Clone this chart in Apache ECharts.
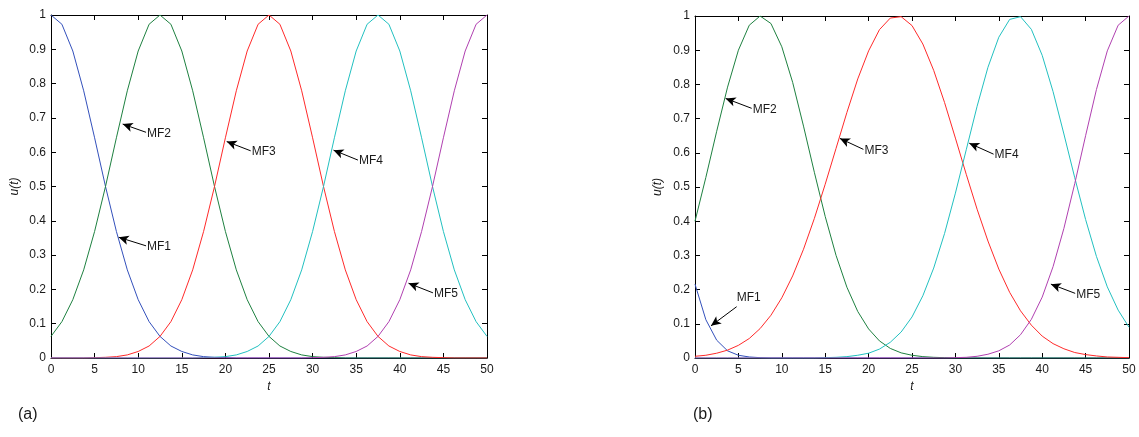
<!DOCTYPE html>
<html>
<head>
<meta charset="utf-8">
<script src="https://cdn.jsdelivr.net/npm/echarts@6/dist/echarts.min.js"></script>
<style>
html,body{margin:0;padding:0;background:#fff;}
#chart{width:1139px;height:437px;}
</style>
</head>
<body>
<div id="chart"></div>
<script>
// ---- data ----
const t = [0,1.25,2.5,3.75,5,6.25,7.5,8.75,10,11.25,12.5,13.75,15,16.25,17.5,18.75,20,21.25,22.5,23.75,25,
           26.25,27.5,28.75,30,31.25,32.5,33.75,35,36.25,37.5,38.75,40,41.25,42.5,43.75,45,46.25,47.5,48.75,50];
const names = ['MF1','MF2','MF3','MF4','MF5'];

// panel (a)
const mf1A = [1,.973,.895,.779,.642,.5,.369,.257,.170,.106,.063,.035,.019,.009,.004,.002,.001,
              0,0,0,0,0,0,0,0,0,0,0,0,0,0,0,0,0,0,0,0,0,0,0,0];
const mf2A = [.063,.106,.170,.257,.369,.5,.642,.779,.895,.973,1,.973,.895,.779,.642,.5,.369,.257,.170,.106,.063,
              .035,.019,.009,.004,.002,.001,0,0,0,0,0,0,0,0,0,0,0,0,0,0];
const mf3A = [0,0,0,0,.001,.002,.004,.009,.019,.035,.063,.106,.170,.257,.369,.5,.642,.779,.895,.973,1,
              .973,.895,.779,.642,.5,.369,.257,.170,.106,.063,.035,.019,.009,.004,.002,.001,0,0,0,0];
const mf4A = [0,0,0,0,0,0,0,0,0,0,0,0,0,0,.001,.002,.004,.009,.019,.035,.063,
              .106,.170,.257,.369,.5,.642,.779,.895,.973,1,.973,.895,.779,.642,.5,.369,.257,.170,.106,.063];
const mf5A = [0,0,0,0,0,0,0,0,0,0,0,0,0,0,0,0,0,0,0,0,0,
              0,0,0,.001,.002,.004,.009,.019,.035,.063,.106,.170,.257,.369,.5,.642,.779,.895,.973,1];

// panel (b)
const mf1B = [.216,.112,.052,.021,.008,.003,.001,0,0,0,0,0,0,0,0,0,0,0,0,0,0,
              0,0,0,0,0,0,0,0,0,0,0,0,0,0,0,0,0,0,0,0];
const mf2B = [.400,.528,.663,.792,.900,.973,1.000,.978,.910,.806,.678,.543,.414,.300,.207,.136,.085,.050,.028,.015,.008,
              .004,.002,.001,0,0,0,0,0,0,0,0,0,0,0,0,0,0,0,0,0];
const mf3B = [.005,.008,.014,.023,.037,.057,.086,.125,.176,.240,.318,.408,.508,.613,.718,.816,.898,.960,.994,.998,.972,
              .918,.841,.747,.643,.537,.435,.342,.260,.192,.138,.096,.064,.042,.027,.016,.010,.006,.003,.002,.001];
const mf4B = [0,0,0,0,0,0,0,0,0,0,0,0,.001,.002,.004,.008,.014,.026,.046,.076,.120,
              .182,.263,.364,.482,.609,.736,.850,.938,.990,.998,.961,.885,.779,.655,.527,.405,.297,.208,.140,.090];
const mf5B = [0,0,0,0,0,0,0,0,0,0,0,0,0,0,0,0,0,0,0,0,0,
              0,0,0,.001,.002,.005,.011,.021,.038,.068,.113,.178,.267,.379,.510,.650,.785,.898,.973,1];

// annotation arrows: tip [t,u] and tail [t,u]
const tipsA = [[7.76,0.352],[8.22,0.682],[20.15,0.631],[32.4,0.606],[41.0,0.218]];
const tailsA = [[10.9,0.327],[10.9,0.658],[22.9,0.604],[35.2,0.577],[43.8,0.190]];
const tipsB = [[1.84,0.094],[3.53,0.759],[16.7,0.642],[31.6,0.628],[41.0,0.216]];
const tailsB = [[4.8,0.150],[6.53,0.730],[19.4,0.610],[34.4,0.596],[43.8,0.189]];

const colors = ['#3350bb','#1e8040','#ff2a2a','#22c0c0','#b040b0'];
const FONT = 'Liberation Sans, Arial, Helvetica, sans-serif';

const chart = echarts.init(document.getElementById('chart'), null, {renderer:'canvas'});

function pairs(ys){ return t.map((x,i)=>[x, ys[i]]); }

function xAx(grid, pos, labels){
  return {
    type:'value', gridIndex:grid, position:pos, min:0, max:50, interval:5,
    axisLine:{show:true, onZero:false, lineStyle:{color:'#000', width:1}},
    axisTick:{show:true, inside:true, length:5, lineStyle:{color:'#000'}},
    axisLabel:{show:labels, margin:6, color:'#1a1a1a', fontSize:12, fontFamily:FONT},
    splitLine:{show:false},
    name: labels ? 't' : '', nameLocation:'middle', nameGap:21,
    nameTextStyle:{fontStyle:'italic', fontSize:12, color:'#1a1a1a', fontFamily:FONT}
  };
}
function yAx(grid, pos, labels, gap){
  return {
    type:'value', gridIndex:grid, position:pos, min:0, max:1, interval:0.1,
    axisLine:{show:true, onZero:false, lineStyle:{color:'#000', width:1}},
    axisTick:{show:true, inside:true, length:5, lineStyle:{color:'#000'}},
    axisLabel:{show:labels, margin:5, color:'#1a1a1a', fontSize:12, fontFamily:FONT,
      formatter: v => (v===0?'0':(Math.abs(v-1)<1e-9?'1':v.toFixed(1)))},
    splitLine:{show:false},
    name: labels ? 'u(t)' : '', nameLocation:'middle', nameGap:gap,
    nameTextStyle:{fontStyle:'italic', fontSize:12, color:'#1a1a1a', fontFamily:FONT}
  };
}

function makeSeries(arrs, xi, yi, tips, tails, panel){
  return arrs.map((ys,k)=>{
    const textUp = (panel==='b' && k===0);
    return {
      type:'line', name:names[k]+panel, xAxisIndex:xi, yAxisIndex:yi,
      data:pairs(ys), showSymbol:false, smooth:false, clip:true,
      lineStyle:{color:colors[k], width:1}, itemStyle:{color:colors[k]},
      emphasis:{disabled:true}, silent:true, z:2,
      markLine:{
        silent:true, animation:false, symbol:['arrow','none'], symbolSize:[7,10],
        lineStyle:{color:'#000', width:1, type:'solid'},
        label:{show:false}, emphasis:{disabled:true},
        data:[[{coord:tips[k]},{coord:tails[k]}]]
      },
      markPoint:{
        silent:true, animation:false, symbol:'circle', symbolSize:0,
        itemStyle:{color:'transparent'},
        label:{show:true, formatter:names[k], color:'#1a1a1a', fontSize:12, fontFamily:FONT,
          position: textUp ? [0,-3] : [1,1], align:'left', verticalAlign: textUp ? 'bottom' : 'middle'},
        data:[{coord:tails[k]}]
      }
    };
  });
}

const option = {
  animation:false,
  backgroundColor:'#fff',
  grid:[
    {left:51, top:15, width:436, height:343},
    {left:695, top:16, width:434, height:342}
  ],
  xAxis:[xAx(0,'bottom',true), xAx(0,'top',false), xAx(1,'bottom',true), xAx(1,'top',false)],
  yAxis:[yAx(0,'left',true,30), yAx(0,'right',false,0), yAx(1,'left',true,31), yAx(1,'right',false,0)],
  series:[].concat(
    makeSeries([mf1A,mf2A,mf3A,mf4A,mf5A],0,0,tipsA,tailsA,'a'),
    makeSeries([mf1B,mf2B,mf3B,mf4B,mf5B],2,2,tipsB,tailsB,'b')
  ),
  graphic:[
    {type:'text', left:18, top:407, style:{text:'(a)', font:'16px '+FONT, fill:'#1a1a1a'}},
    {type:'text', left:693, top:407, style:{text:'(b)', font:'16px '+FONT, fill:'#1a1a1a'}}
  ]
};
chart.setOption(option);
</script>
</body>
</html>
